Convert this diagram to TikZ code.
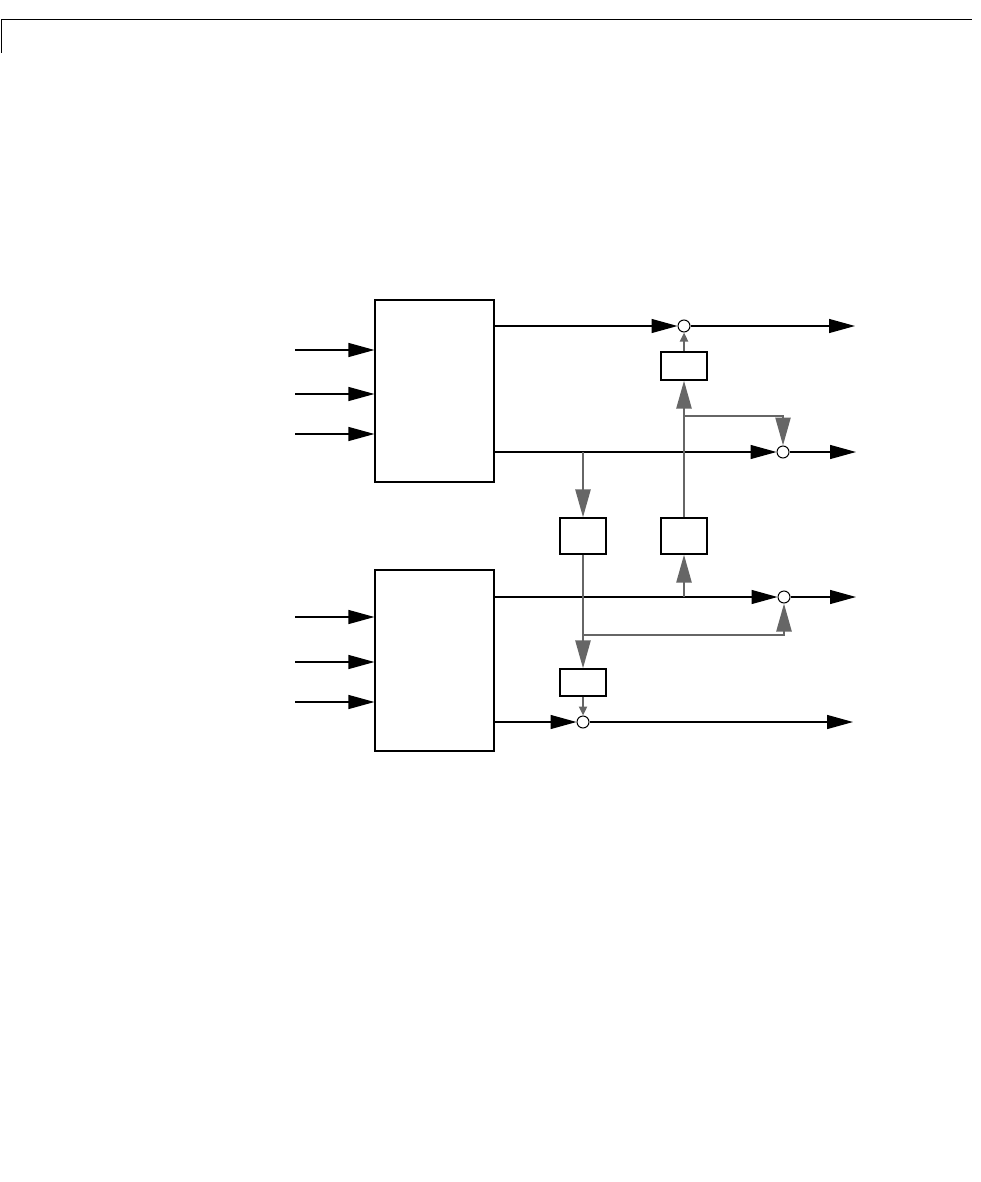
\documentclass[tikz,border=0pt]{standalone}
\usetikzlibrary{arrows.meta}
\definecolor{gline}{HTML}{666666}
\tikzset{
  blockbox/.style={draw=black, line width=1.2pt, fill=white, inner sep=0pt},
  sumnode/.style={circle, draw=black, line width=1pt, fill=white, minimum size=12pt, inner sep=0pt},
  blk/.style={draw=black, line width=1.3pt, -{Triangle[length=26pt,width=14pt]}},
  blkline/.style={draw=black, line width=1.3pt},
  garr/.style={draw=gline, line width=2.5pt, -{Triangle[length=28pt,width=15pt]}},
  gsmall/.style={draw=gline, line width=2.2pt, -{Triangle[length=9pt,width=8pt]}},
  gline/.style={draw=gline, line width=2.5pt},
}
\begin{document}
\begin{tikzpicture}[x=1pt,y=-1pt]
\useasboundingbox (0,0) rectangle (981,1182);
% page rule
\coordinate (r0) at (1.5,53);
\coordinate (r1) at (1.5,19.5);
\coordinate (r2) at (972,19.5);
\draw[line width=1.3pt] (r0) -- (r1) -- (r2);

% main blocks
\node[blockbox, minimum width=119pt, minimum height=182pt] (A) at (434.5,391) {};
\node[blockbox, minimum width=119pt, minimum height=181pt] (B) at (434.5,660.5) {};
% small blocks
\node[blockbox, minimum width=46pt, minimum height=28pt] (s1) at (684,366) {};
\node[blockbox, minimum width=46pt, minimum height=36pt] (s2) at (583,536) {};
\node[blockbox, minimum width=46pt, minimum height=36pt] (s3) at (684,536) {};
\node[blockbox, minimum width=46pt, minimum height=27pt] (s4) at (583,682.5) {};
% summing junctions
\node[sumnode] (c1) at (684,326) {};
\node[sumnode] (c2) at (783,452) {};
\node[sumnode] (c3) at (784,597) {};
\node[sumnode] (c4) at (583,722) {};

% inputs
\coordinate (i1) at (295,350);
\coordinate (i2) at (295,394);
\coordinate (i3) at (295,434);
\coordinate (i4) at (295,617);
\coordinate (i5) at (295,662);
\coordinate (i6) at (295,702);
\draw[blk] (i1) -- (A.west |- i1);
\draw[blk] (i2) -- (A.west |- i2);
\draw[blk] (i3) -- (A.west |- i3);
\draw[blk] (i4) -- (B.west |- i4);
\draw[blk] (i5) -- (B.west |- i5);
\draw[blk] (i6) -- (B.west |- i6);

% outputs
\coordinate (o1) at (855,326);
\coordinate (o2) at (856,452);
\coordinate (o3) at (856,597);
\coordinate (o4) at (853,722);
\draw[blk] (A.east |- c1) -- (c1.west);
\draw[blk] (c1.east) -- (o1);
\draw[blk] (A.east |- c2) -- (c2.west);
\draw[blk] (c2.east) -- (o2);
\draw[blk] (B.east |- c3) -- (c3.west);
\draw[blk] (c3.east) -- (o3);
\draw[blk] (B.east |- c4) -- (c4.west);
\draw[blk] (c4.east) -- (o4);

% gray cross-coupling paths
\coordinate (t2) at (583,452);
\coordinate (t3) at (684,597);
\coordinate (b1) at (684,416);
\coordinate (b2) at (583,635);
\draw[garr] (t2) -- (s2.north);
\draw[garr] (s3.north) -- (s1.south);
\draw[gsmall] (s1.north) -- (c1.south);
\draw[garr] (b1) -| (c2.north);
\draw[garr] (t3) -- (s3.south);
\draw[garr] (s2.south) -- (s4.north);
\draw[garr] (b2) -| (c3.south);
\draw[gsmall] (s4.south) -- (c4.north);
\end{tikzpicture}
\end{document}
